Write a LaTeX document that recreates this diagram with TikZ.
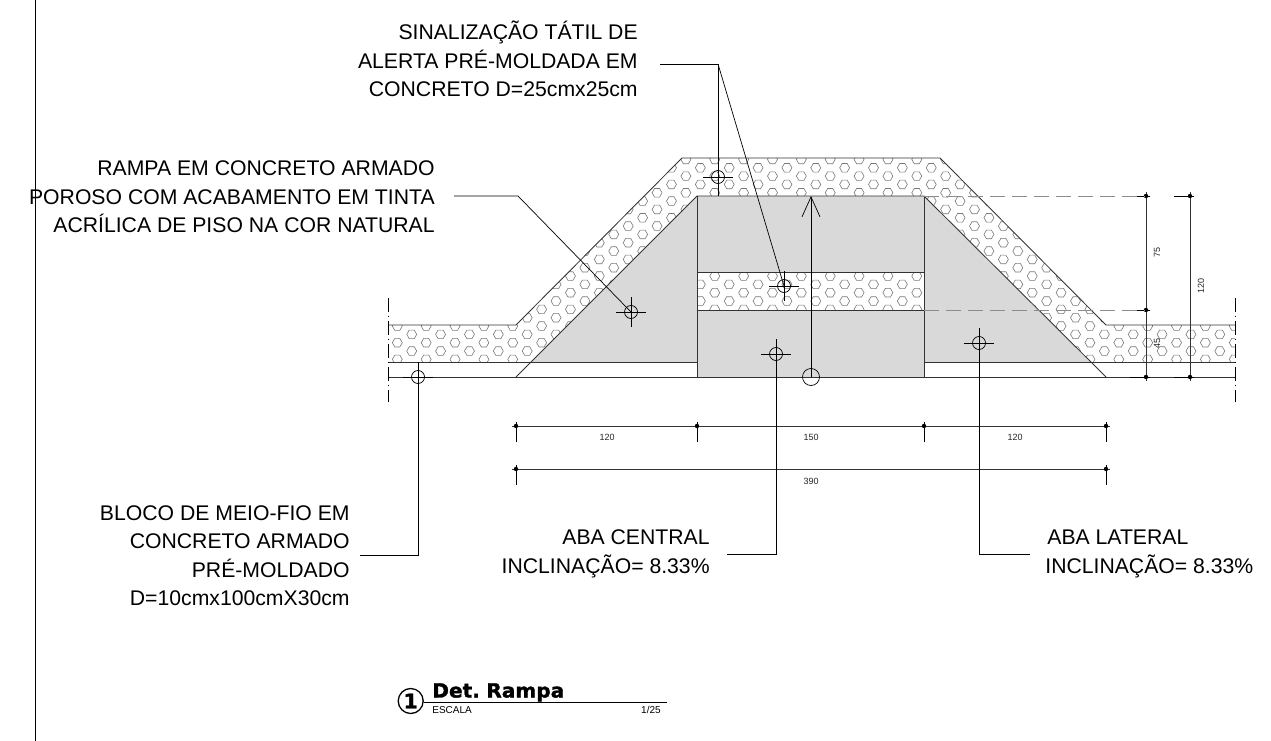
\documentclass[tikz,border=0pt]{standalone}
\usepackage{fontspec}
\setmainfont{Liberation Sans}
\newfontfamily\titlefont[WordSpace=0.6,FakeStretch=1.03,BoldFeatures={FakeBold=1.5,FakeStretch=1.03}]{DejaVu Sans}
\usetikzlibrary{arrows.meta,shapes.geometric}

\definecolor{slab}{RGB}{217,217,217}
\definecolor{hexgray}{RGB}{120,120,120}

\newcommand{\hexfield}{%
	\foreach \i in {-1,...,30}{
		\foreach \j in {-3,...,12}{
			\pgfmathsetmacro{\hx}{397.3+28.86*\i}
			\pgfmathsetmacro{\hy}{342.7-16.66*\j}
			\draw[hexline] (\hx+5,\hy) -- ++(-2.5,4.3) -- ++(-5,0) -- ++(-2.5,-4.3) -- ++(2.5,-4.3) -- ++(5,0) -- cycle;
			\draw[hexline] (\hx+19.43,\hy-8.33) -- ++(-2.5,4.3) -- ++(-5,0) -- ++(-2.5,-4.3) -- ++(2.5,-4.3) -- ++(5,0) -- cycle;
		}
	}
}

\begin{document}
\begin{tikzpicture}[x=1pt,y=-1pt,line width=0.7pt]
		\tikzstyle{hexline}=[draw=hexgray,line width=0.6pt]
		\tikzstyle{edge}=[draw=black!80,line width=0.85pt]
		\tikzstyle{target}=[draw,shape=circle,minimum size=13pt,inner sep=0pt]
		\tikzstyle{label}=[inner sep=0pt,font=\fontsize{21.2}{28.4}\selectfont]
		\tikzstyle{dimtext}=[inner sep=0pt,text=black!85,font=\fontsize{9}{10}\selectfont]
		\tikzstyle{guide}=[draw=black!45,line width=0.8pt,dash pattern=on 15pt off 7pt]
		\tikzstyle{axis}=[line width=0.7pt,dash pattern=on 14pt off 3.5pt on 1.5pt off 4pt]
		\useasboundingbox (0,0) rectangle (1271,741);

		\draw (35,0) -- (35,741);

		% hatched sidewalk
		\begin{scope}
			\clip (388,325) -- (516,325) -- (682,158) -- (940,158) -- (1106,325) -- (1235,325) -- (1235,362) -- (388,362) -- cycle;
			\hexfield
		\end{scope}
		\fill[slab] (531,362) -- (697,196) -- (924,196) -- (1090,362) -- cycle;
		\fill[slab] (697,362) rectangle (924,377);
		\fill[white] (697,272) rectangle (924,310);
		\begin{scope}
			\clip (697,272) rectangle (924,310);
			\hexfield
		\end{scope}

		\draw[edge] (388,325) -- (516,325) -- (682,158) -- (940,158) -- (1106,325) -- (1235,325);
		\draw[edge] (388,362) -- (697,362);
		\draw[edge] (924,362) -- (1235,362);
		\draw[edge] (388,377) -- (1235,377);
		\draw[edge] (516,377) -- (697,196) -- (924,196) -- (1106,377);
		\draw[edge] (697,196) -- (697,377);
		\draw[edge] (924,196) -- (924,377);
		\draw[edge] (697,272) -- (924,272);
		\draw[edge] (697,310) -- (924,310);
		\draw[axis] (388,298) -- (388,402);
		\draw[axis] (1235,298) -- (1235,402);

		% dimensions
		\node[inner sep=0pt](d1) at (516,426){};
		\node[inner sep=0pt](d2) at (697,426){};
		\node[inner sep=0pt](d3) at (924,426){};
		\node[inner sep=0pt](d4) at (1106,426){};
		\node[inner sep=0pt](e1) at (516,469){};
		\node[inner sep=0pt](e2) at (1106,469){};
		\node[inner sep=0pt](v1) at (1146,196){};
		\node[inner sep=0pt](v2) at (1146,310){};
		\node[inner sep=0pt](v3) at (1146,377){};
		\node[inner sep=0pt](w1) at (1190,196){};
		\node[inner sep=0pt](w2) at (1190,377){};
		\draw[edge] ([xshift=-4pt]d1.center) -- ([xshift=4pt]d4.center);
		\draw[edge] ([xshift=-4pt]e1.center) -- ([xshift=4pt]e2.center);
		\draw[edge] ([yshift=4pt]v1.center) -- ([yshift=-4pt]v3.center);
		\draw[edge] ([yshift=4pt]w1.center) -- ([yshift=-4pt]w2.center);
		\foreach \n in {d1,d2,d3,d4,e1,e2}{
			\fill (\n) circle (2.2pt);
			\draw[line width=1pt] ([yshift=4pt]\n.center) -- ([yshift=-16pt]\n.center);
		}
		\foreach \n in {v1,v2,v3,w1,w2}{
			\fill (\n) circle (2.2pt);
			\draw[line width=1pt] ([xshift=4pt]\n.center) -- ([xshift=-16pt]\n.center);
		}
		\draw[guide] (924,196) -- (v1);
		\draw[guide] (924,310) -- (v2);

		\node[dimtext](t120a) at (607,437){120};
		\node[dimtext](t150) at (811,437){150};
		\node[dimtext](t120b) at (1015,437){120};
		\node[dimtext](t390) at (811,481){390};
		\node[dimtext,rotate=90](t75) at (1157,252){75};
		\node[dimtext,rotate=90](t45) at (1157,343){45};
		\node[dimtext,rotate=90](t120c) at (1201,286){120};

		% leaders
		\node[target](msin) at (718,177){};
		\node[target](mfaixa) at (784,286){};
		\node[target](mrampa) at (631,312){};
		\node[target](mfio) at (418,377){};
		\node[target](mcentral) at (776,354){};
		\node[target](mlateral) at (979,343){};
		\foreach \n in {msin,mfaixa,mrampa,mfio,mcentral,mlateral}{
			\draw ([xshift=-15pt]\n.center) -- ([xshift=15pt]\n.center);
			\draw ([yshift=-15pt]\n.center) -- ([yshift=15pt]\n.center);
		}
		\node[target,minimum size=17pt](marrow) at (811,377){};
		\coordinate (atop) at (811,196);
		\draw[-{Straight Barb[length=20pt,width=18pt]}] (marrow.center) -- (atop);

		\node[label,align=right,anchor=east](lsin) at (638,59){SINALIZAÇÃO TÁTIL DE\\ALERTA PRÉ-MOLDADA EM\\CONCRETO D=25cmx25cm};
		\node[label,align=right,anchor=east](lrampa) at (435,197){RAMPA EM CONCRETO ARMADO\\POROSO COM ACABAMENTO EM TINTA\\ACRÍLICA DE PISO NA COR NATURAL};
		\node[label,align=right,anchor=east](lfio) at (350,555.5){BLOCO DE MEIO-FIO EM\\CONCRETO ARMADO\\PRÉ-MOLDADO\\D=10cmx100cmX30cm};
		\node[label,align=right,anchor=east](lcentral) at (710,554){ABA CENTRAL\\INCLINAÇÃO= 8.33\%};
		\node[label,align=left,anchor=west](llateral) at (1045,554){\hspace*{2pt}ABA LATERAL\\INCLINAÇÃO= 8.33\%};

		\coordinate (bsin) at (718,64);
		\coordinate (brampa) at (518,196);
		\coordinate (bfio) at (418,555);
		\coordinate (bcentral) at (776,554);
		\coordinate (blateral) at (979,554);
		\coordinate (esin) at (660,64);
		\coordinate (ebase) at (718,196);
		\coordinate (erampa) at (454,196);
		\coordinate (efio) at (360,555);
		\coordinate (ecentral) at (727,554);
		\coordinate (elateral) at (1030,554);

		\draw (esin) -- (bsin) -- (ebase);
		\draw (bsin) -- (mfaixa.center);
		\draw (erampa) -- (brampa) -- (mrampa.center);
		\draw (efio) -- (bfio) -- (mfio.center);
		\draw (ecentral) -- (bcentral) -- (mcentral.center);
		\draw (elateral) -- (blateral) -- (mlateral.center);

		% title
		\node[draw,shape=circle,line width=1.3pt,minimum size=25pt,inner sep=0pt,font=\titlefont\fontsize{20}{20}\selectfont\bfseries](tnum) at (410.7,701){1};
		\node[inner sep=0pt,anchor=base west,font=\titlefont\fontsize{19.5}{19.5}\selectfont\bfseries](ttitle) at (432,697.5){Det. Rampa};
		\node[inner sep=0pt,anchor=base west,font=\fontsize{10}{11}\selectfont](tesc) at (432,713){ESCALA};
		\node[inner sep=0pt,anchor=base east,font=\fontsize{10}{11}\selectfont](tscale) at (661,713){1/25};
		\coordinate (rend) at (667,702.5);
		\draw[line width=1pt] (tnum.east |- rend) -- (rend);
	\end{tikzpicture}
\end{document}
